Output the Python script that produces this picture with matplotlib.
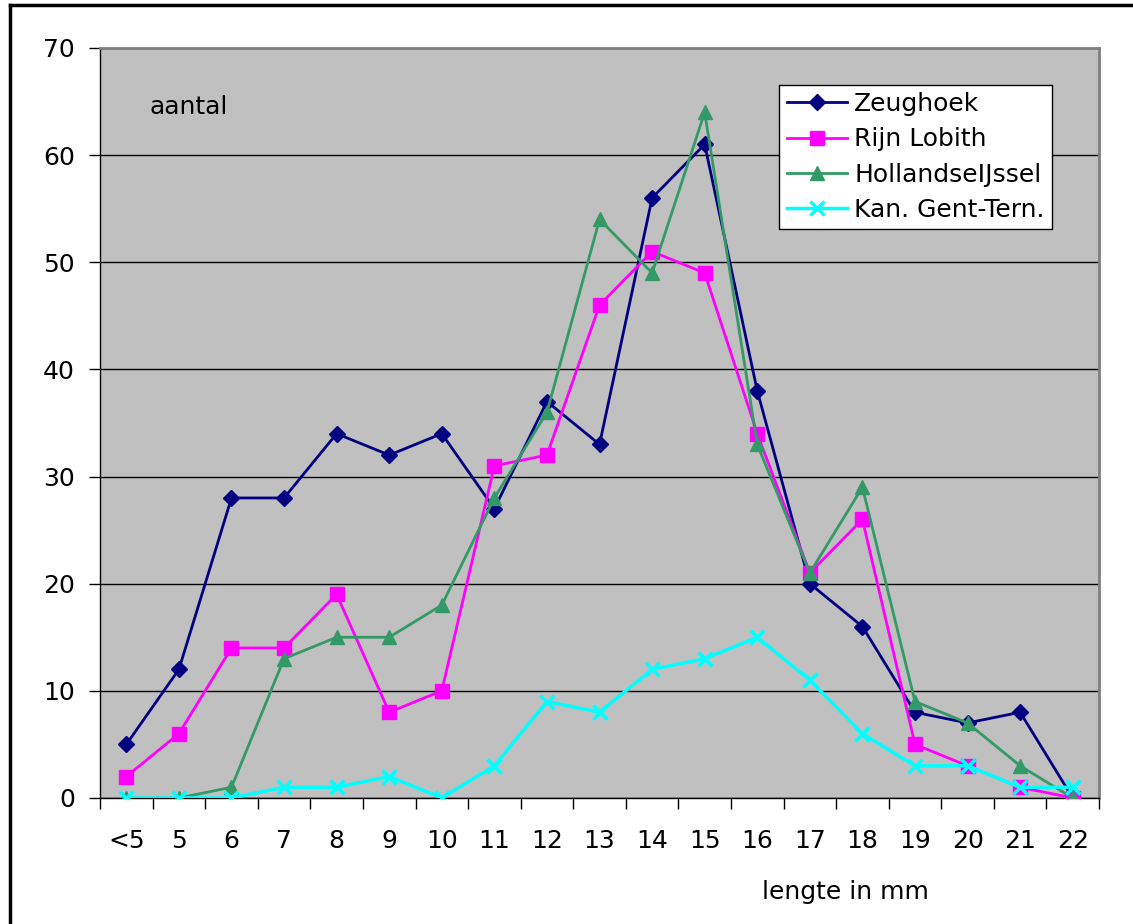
import matplotlib
matplotlib.use("Agg")
import matplotlib.pyplot as plt
from matplotlib.lines import Line2D

categories = ["<5", "5", "6", "7", "8", "9", "10", "11", "12", "13",
              "14", "15", "16", "17", "18", "19", "20", "21", "22"]
zeughoek = [5, 12, 28, 28, 34, 32, 34, 27, 37, 33, 56, 61, 38, 20, 16, 8, 7, 8, 0]
rijn_lobith = [2, 6, 14, 14, 19, 8, 10, 31, 32, 46, 51, 49, 34, 21, 26, 5, 3, 1, 0]
hollandse_ijssel = [0, 0, 1, 13, 15, 15, 18, 28, 36, 54, 49, 64, 33, 21, 29, 9, 7, 3, 0]
kan_gent_tern = [0, 0, 0, 1, 1, 2, 0, 3, 9, 8, 12, 13, 15, 11, 6, 3, 3, 1, 1]

plt.rcParams['font.family'] = ['DejaVu Sans']

fig = plt.figure(figsize=(11.33, 9.24), dpi=100)
ax = fig.add_axes([0.0883, 0.1364, 0.8817, 0.8117])
ax.set_facecolor("#c0c0c0")

x = list(range(len(categories)))
ax.plot(x, zeughoek, color="#000080", lw=2, marker="D", ms=8, label="Zeughoek", zorder=3)
ax.plot(x, rijn_lobith, color="#ff00ff", lw=2, marker="s", ms=10, label="Rijn Lobith", zorder=3)
ax.plot(x, hollandse_ijssel, color="#339966", lw=2, marker="^", ms=10, label="HollandseIJssel", zorder=3)
ax.plot(x, kan_gent_tern, color="#00ffff", lw=2.5, marker="x", ms=10, mew=2.5, label="Kan. Gent-Tern.", zorder=3)

ax.set_xlim(-0.5, len(categories) - 0.5)
ax.set_ylim(0, 70)
ax.set_yticks(range(0, 71, 10))
ax.yaxis.grid(True, color="black", lw=1)
ax.set_axisbelow(True)

# ticks on category boundaries, labels centred under the points
ax.set_xticks([i - 0.5 for i in range(len(categories) + 1)])
ax.set_xticklabels([])
ax.set_xticks(x, minor=True)
ax.set_xticklabels(categories, minor=True)
ax.tick_params(axis="x", which="major", length=8, width=1, direction="out")
ax.tick_params(axis="x", which="minor", length=0, pad=22, labelsize=18)
ax.tick_params(axis="y", length=8, width=1, pad=10, labelsize=18)

for s in ["top", "right"]:
    ax.spines[s].set_color("#808080")
    ax.spines[s].set_linewidth(2)
for s in ["left", "bottom"]:
    ax.spines[s].set_color("black")
    ax.spines[s].set_linewidth(1)

ax.text(0.05, 0.921, "aantal", transform=ax.transAxes, fontsize=18, va="center", ha="left")
fig.text(0.746, 0.035, "lengte in mm", fontsize=18, ha="center", va="center")

leg = ax.legend(loc="upper left", bbox_to_anchor=(0.68, 0.951), fontsize=18,
                frameon=True, fancybox=False, framealpha=1, edgecolor="black",
                borderpad=0.3, labelspacing=0.45, handlelength=2.4, handletextpad=0.3,
                borderaxespad=0)
leg.get_frame().set_linewidth(1)

# outer chart border (only left and top visible in the original)
fig.lines.append(Line2D([0.0085, 0.0085], [0.9946, 0.0], transform=fig.transFigure,
                        color="black", lw=2.5))
fig.lines.append(Line2D([0.0085, 1.0], [0.9946, 0.9946], transform=fig.transFigure,
                        color="black", lw=2.5))

fig.savefig("out.png", dpi=100)
